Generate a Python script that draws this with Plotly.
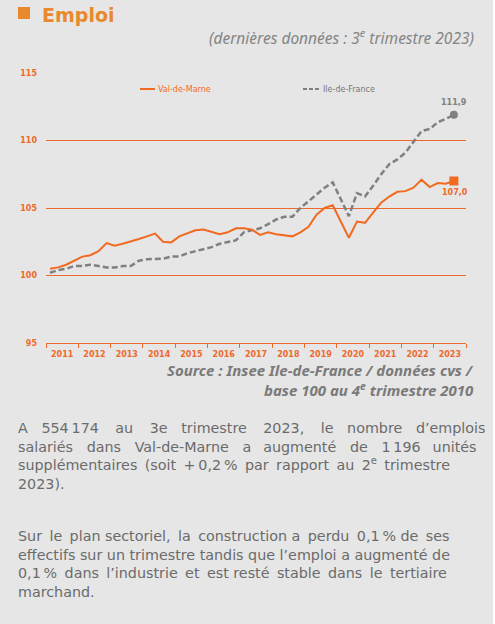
import plotly.graph_objects as go

# ---- data ----
years = list(range(2011, 2024))
quarters = [f"{y}T{q}" for y in years for q in range(1, 5)][:51]  # 2011T1 .. 2023T3
val_de_marne = [100.5, 100.6, 100.8, 101.1, 101.4, 101.5, 101.8, 102.4, 102.2, 102.35,
                102.5, 102.7, 102.9, 103.1, 102.5, 102.45, 102.9, 103.1, 103.35, 103.4,
                103.25, 103.05, 103.2, 103.5, 103.5, 103.4, 103.0, 103.2, 103.05, 103.0,
                102.9, 103.2, 103.6, 104.5, 105.0, 105.2, 104.0, 102.8, 104.0, 103.9,
                104.65, 105.4, 105.85, 106.2, 106.25, 106.5, 107.1, 106.55, 106.85, 106.8,
                107.0]
ile_de_france = [100.2, 100.4, 100.5, 100.7, 100.7, 100.8, 100.7, 100.6, 100.6, 100.7,
                 100.7, 101.1, 101.2, 101.25, 101.25, 101.4, 101.4, 101.65, 101.8, 101.9,
                 102.1, 102.35, 102.5, 102.6, 103.2, 103.35, 103.5, 103.8, 104.15, 104.35,
                 104.35, 105.0, 105.5, 106.0, 106.5, 106.9, 105.65, 104.4, 106.1, 105.85,
                 106.65, 107.5, 108.25, 108.6, 109.1, 109.9, 110.7, 110.85, 111.35, 111.6,
                 111.9]
y_ticks = [95, 100, 105, 110, 115]
year_labels = [str(y) for y in years]

# ---- style ----
W, H = 495, 624
L, R, T, B = 46, 466, 73, 343   # plot area in px
ORANGE = "#F26A1F"
AXIS_OR = "#EE6A2C"
TITLE_OR = "#E8892C"
GREY = "#808080"
BG = "#E6E6E6"
TEXT = "#6B6B6B"
FONT = "Noto Sans"

def px(x):
    return (x - L) / (R - L)

def py(y):
    return (B - y) / (B - T)

# quarter x position: center of quarter slot
xq = []
for lab in quarters:
    yr, q = lab.split("T")
    xq.append(int(yr) + (int(q) - 0.5) / 4)

fig = go.Figure()
fig.add_trace(go.Scatter(x=xq, y=ile_de_france, mode="lines", name="Ile-de-France",
                         line=dict(color=GREY, width=2.5, dash="6px,3px"),
                         showlegend=False, hoverinfo="skip"))
fig.add_trace(go.Scatter(x=xq, y=val_de_marne, mode="lines", name="Val-de-Marne",
                         line=dict(color=ORANGE, width=2),
                         showlegend=False, hoverinfo="skip"))
fig.add_trace(go.Scatter(x=[xq[-1]], y=[ile_de_france[-1]], mode="markers",
                         marker=dict(symbol="circle", size=8, color=GREY),
                         showlegend=False, hoverinfo="skip"))
fig.add_trace(go.Scatter(x=[xq[-1]], y=[val_de_marne[-1]], mode="markers",
                         marker=dict(symbol="square", size=9, color=ORANGE),
                         showlegend=False, hoverinfo="skip"))

ann = []
def fmt(v):
    return f"{v:.1f}".replace(".", ",")

ann.append(dict(x=xq[-1], y=ile_de_france[-1], xref="x", yref="y", text=f"<b>{fmt(ile_de_france[-1])}</b>",
                showarrow=False, yshift=12, font=dict(family="DejaVu Sans", size=8, color=GREY)))
ann.append(dict(x=xq[-1], y=val_de_marne[-1], xref="x", yref="y", text=f"<b>{fmt(val_de_marne[-1])}</b>",
                showarrow=False, yshift=-11, xshift=1, font=dict(family="DejaVu Sans", size=8, color=AXIS_OR)))

# legend (manual)
ann.append(dict(x=px(156), y=py(89), xref="paper", yref="paper", text="Val-de-Marne", showarrow=False,
                xanchor="left", yanchor="middle", font=dict(family="DejaVu Sans", size=8, color=ORANGE)))
ann.append(dict(x=px(321), y=py(89), xref="paper", yref="paper", text="Ile-de-France", showarrow=False,
                xanchor="left", yanchor="middle", font=dict(family="DejaVu Sans", size=8, color="#777777")))

# title
ann.append(dict(x=px(40), y=py(15), xref="paper", yref="paper", text="<b>Emploi</b>", showarrow=False,
                xanchor="left", yanchor="middle", font=dict(family="DejaVu Sans", size=19, color=TITLE_OR)))
ann.append(dict(x=px(476), y=py(37), xref="paper", yref="paper",
                text="<i>(dernières données : 3<sup>e</sup> trimestre 2023)</i>", showarrow=False,
                xanchor="right", yanchor="middle", font=dict(family=FONT, size=15.5, color="#858585")))

# source
ann.append(dict(x=px(476), y=py(370), xref="paper", yref="paper",
                text="<b><i>Source : Insee Ile-de-France / données cvs /</i></b>", showarrow=False,
                xanchor="right", yanchor="middle", font=dict(family=FONT, size=15, color="#7A7A7A")))
ann.append(dict(x=px(476), y=py(389), xref="paper", yref="paper",
                text="<b><i>base 100 au 4<sup>e</sup> trimestre 2010</i></b>", showarrow=False,
                xanchor="right", yanchor="middle", font=dict(family=FONT, size=15, color="#7A7A7A")))

NB = "\u00a0"   # no-break space
TH = "\u2009"   # thin space
NN = "\u202f"   # narrow no-break space

def just(words, extra):
    # join words, adding extra spacing per gap (approximate justification)
    out = words[0]
    for w, e in zip(words[1:], extra):
        out += " " + e + w
    return out

para1 = [
    just(["A", f"554{NN}174", "au", "3e", "trimestre", "2023,", "le", "nombre", "d’emplois"],
         [NB*2, NB*2+TH, NB*2+TH, NB*2, NB*2+TH, NB*2+TH, NB*2, NB*2]),
    just(["salariés", "dans", "Val-de-Marne", "a", "augmenté", "de", f"1{NN}196", "unités"],
         [NB*2, NB*2, NB*2, NB+TH, NB*2, NB*2, NB+TH]),
    just(["supplémentaires", "(soit", f"+{NN}0,2{NN}%", "par", "rapport", "au", "2<sup>e</sup>", "trimestre"],
         [TH, TH, TH, TH, TH, TH, TH]),
    "2023).",
]
para2 = [
    just(["Sur", "le", "plan", "sectoriel,", "la", "construction", "a", "perdu", f"0,1{NN}%", "de", "ses"],
         [TH, TH, "", TH, TH, "", TH, TH, "", TH]),
    "effectifs sur un trimestre tandis que l’emploi a augmenté de",
    just(["0,1" + NN + "%", "dans", "l’industrie", "et", "est", "resté", "stable", "dans", "le", "tertiaire"],
         [TH, TH, TH, TH, "", TH, TH, TH, TH]),
    "marchand.",
]
for lines, ycenter in ((para1, 456), (para2, 564)):
    ann.append(dict(x=px(16), y=py(ycenter), xref="paper", yref="paper", text="<br>".join(lines),
                    showarrow=False, align="left", xanchor="left", yanchor="middle",
                    font=dict(family="DejaVu Sans", size=14.3, color=TEXT)))

shapes = [
    dict(type="rect", xref="paper", yref="paper", x0=px(18), x1=px(30), y0=py(19), y1=py(7),
         fillcolor=TITLE_OR, line=dict(width=0)),
    dict(type="line", xref="paper", yref="paper", x0=px(140), x1=px(155), y0=py(89), y1=py(89),
         line=dict(color=ORANGE, width=2)),
    dict(type="line", xref="paper", yref="paper", x0=px(303), x1=px(320), y0=py(89), y1=py(89),
         line=dict(color=GREY, width=2, dash="4px,2px")),
    dict(type="rect", xref="paper", yref="paper", x0=px(493), x1=px(496), y0=py(-2), y1=py(626),
         fillcolor="#FFFFFF", line=dict(width=0), layer="above"),
]

fig.update_layout(
    width=W, height=H,
    margin=dict(l=L, r=W - R, t=T, b=H - B, pad=0),
    paper_bgcolor=BG, plot_bgcolor=BG,
    showlegend=False,
    annotations=ann, shapes=shapes,
    xaxis=dict(range=[2011, 2024], tickmode="array",
               tickvals=[y + 0.5 for y in years], ticktext=year_labels,
               ticks="", showgrid=False, zeroline=False,
               showline=True, linecolor=AXIS_OR, linewidth=1, ticklabelstandoff=3,
               tickfont=dict(family="DejaVu Sans", size=8, color=AXIS_OR, weight="bold"),
               minor=dict(tickmode="array", tickvals=list(range(2011, 2025)), ticks="outside",
                          ticklen=4, tickcolor=AXIS_OR, tickwidth=1, showgrid=False),
               fixedrange=True),
    yaxis=dict(range=[95, 115], tickmode="array", tickvals=y_ticks,
               ticktext=[str(v) for v in y_ticks],
               showgrid=True, gridcolor=AXIS_OR, gridwidth=1, zeroline=False, showline=False,
               ticks="", ticklabelstandoff=8,
               tickfont=dict(family="DejaVu Sans", size=8, color=AXIS_OR, weight="bold"),
               fixedrange=True),
)

fig.write_html("out.html", config={"displayModeBar": False},
               post_script="document.body.style.margin='0';document.body.style.overflow='hidden';")
